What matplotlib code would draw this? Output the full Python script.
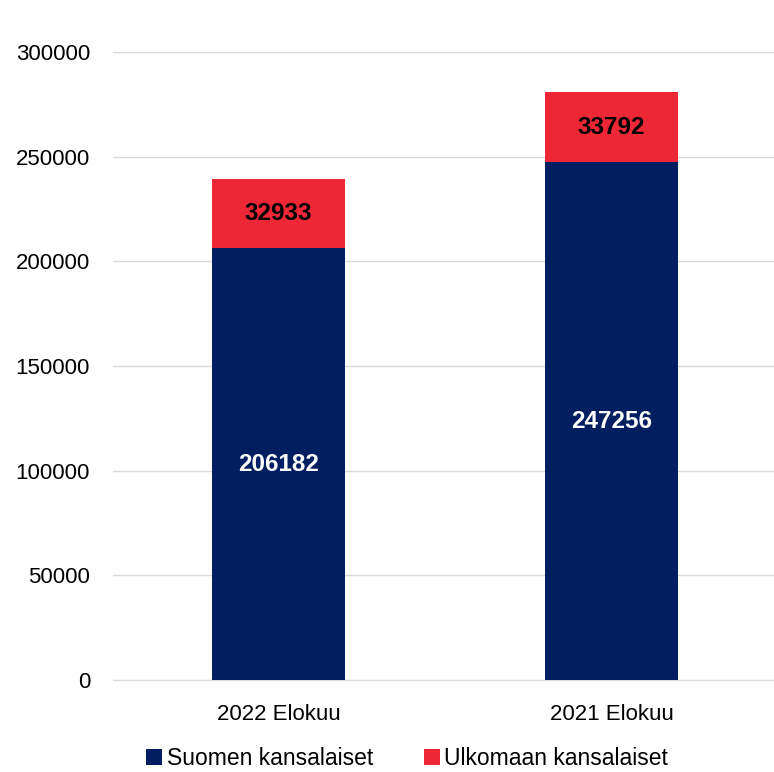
import matplotlib
matplotlib.use("Agg")
import matplotlib.pyplot as plt
import numpy as np

plt.rcParams['font.family'] = ['Liberation Sans', 'DejaVu Sans']

# tiedot
categories = ['2022 Elokuu', '2021 Elokuu']
suomen = [206182, 247256]
ulkomaan = [32933, 33792]
series_names = ['Suomen kansalaiset', 'Ulkomaan kansalaiset']

navy = '#001E60'
red = '#EE2737'

fig = plt.figure(figsize=(7.74, 7.72), dpi=100)
ax = fig.add_axes([0.146, 0.1192, 0.854, 0.8134])

x = np.arange(len(categories))
w = 0.4
b1 = ax.bar(x, suomen, width=w, color=navy, label=series_names[0], zorder=3)
b2 = ax.bar(x, ulkomaan, width=w, bottom=suomen, color=red, label=series_names[1], zorder=3)

for i in range(len(categories)):
	ax.text(x[i], suomen[i] / 2, str(suomen[i]), ha='center', va='center',
			color='white', fontsize=17.5, fontweight='bold', zorder=4)
	ax.text(x[i], suomen[i] + ulkomaan[i] / 2, str(ulkomaan[i]), ha='center', va='center',
			color='black', fontsize=17.5, fontweight='bold', zorder=4)

ax.set_xlim(-0.497, 1.488)
ax.set_ylim(0, 300000)
ax.set_yticks(np.arange(0, 300001, 50000))
ax.set_xticks(x)
ax.set_xticklabels(categories)
ax.tick_params(axis='both', length=0, labelsize=16, colors='#000000')
ax.tick_params(axis='y', pad=16.5)
ax.tick_params(axis='x', pad=17)
ax.yaxis.grid(True, color='#d9d9d9', linewidth=1, zorder=0)
for s in ['top', 'right', 'left']:
	ax.spines[s].set_visible(False)
ax.spines['bottom'].set_color('#d9d9d9')

fig.legend(handles=[b1, b2], labels=series_names, loc='center', bbox_to_anchor=(0.526, 0.017),
		   ncol=2, frameon=False, fontsize=16.5, handlelength=0.7, handleheight=0.7,
		   handletextpad=0.2, columnspacing=2.2)

plt.savefig('out.png', dpi=100)
